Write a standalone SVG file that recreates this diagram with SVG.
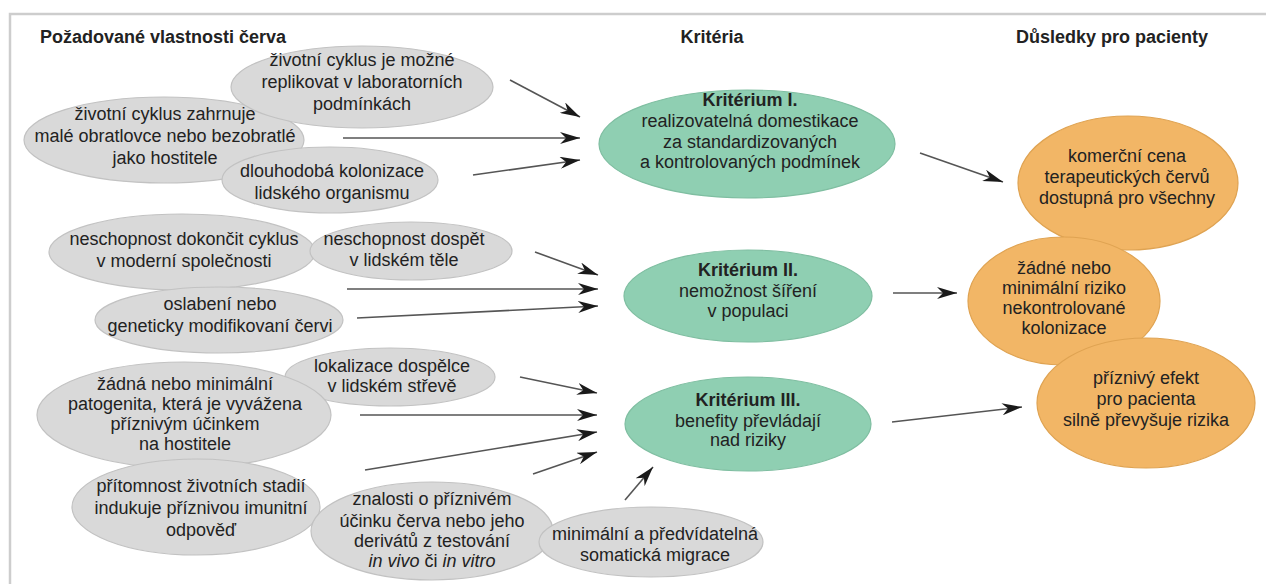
<svg xmlns="http://www.w3.org/2000/svg" width="1266" height="584" viewBox="0 0 1266 584">
<style>
text{font-family:"Liberation Sans",Arial,sans-serif;font-size:18px;fill:#222;text-anchor:middle}
.h{font-weight:bold}
.hl{font-weight:bold;text-anchor:start}
.gr{fill:#d9d9d9;stroke:#c2c2c2;stroke-width:1.2}
.gn{fill:#8fcfb2;stroke:#7fbea1;stroke-width:1.2}
.or{fill:#f2b666;stroke:#dfa352;stroke-width:1.2}
.c line{stroke:#555;stroke-width:1.6;marker-end:url(#ah)}
.i{font-style:italic}
</style>
<defs>
<marker id="ah" markerUnits="userSpaceOnUse" markerWidth="22" markerHeight="12" refX="20" refY="6" orient="auto">
<path d="M0,0 L20,6 L0,12 L6,6 Z" fill="#1a1a1a"/>
</marker>
</defs>
<rect width="1266" height="584" fill="#fff"/>
<path d="M1266,14 H10 V584" fill="none" stroke="#cdcdcd" stroke-width="2.5"/>
<g id="headers">
<text class="hl" x="40" y="43">Požadované vlastnosti červa</text>
<text class="h" x="712" y="43">Kritéria</text>
<text class="h" x="1112" y="43">Důsledky pro pacienty</text>
</g>
<g id="n2"><ellipse class="gr" cx="164" cy="140" rx="140" ry="43"/>
<text x="165" y="120">životní cyklus zahrnuje</text><text x="165" y="142">malé obratlovce nebo bezobratlé</text><text x="165" y="164">jako hostitele</text></g>
<g id="n1"><ellipse class="gr" cx="362" cy="87" rx="131" ry="41"/>
<text x="362" y="66">životní cyklus je možné</text><text x="362" y="88">replikovat v laboratorních</text><text x="362" y="110">podmínkách</text></g>
<g id="n3"><ellipse class="gr" cx="330" cy="180" rx="108" ry="33"/>
<text x="332" y="177">dlouhodobá kolonizace</text><text x="332" y="199">lidského organismu</text></g>
<g id="n4"><ellipse class="gr" cx="182" cy="252" rx="133" ry="38"/>
<text x="184" y="245">neschopnost dokončit cyklus</text><text x="184" y="267">v moderní společnosti</text></g>
<g id="n5"><ellipse class="gr" cx="411" cy="251" rx="101" ry="29"/>
<text x="404" y="245">neschopnost dospět</text><text x="404" y="266">v lidském těle</text></g>
<g id="n6"><ellipse class="gr" cx="219" cy="320" rx="124" ry="33"/>
<text x="220" y="310">oslabení nebo</text><text x="220" y="332">geneticky modifikovaní červi</text></g>
<g id="n7"><ellipse class="gr" cx="390" cy="377" rx="105" ry="29"/>
<text x="392" y="372">lokalizace dospělce</text><text x="392" y="392">v lidském střevě</text></g>
<g id="n8"><ellipse class="gr" cx="184" cy="415" rx="147" ry="53"/>
<text x="185" y="390">žádná nebo minimální</text><text x="185" y="410">patogenita, která je vyvážena</text><text x="185" y="430">příznivým účinkem</text><text x="185" y="450">na hostitele</text></g>
<g id="n9"><ellipse class="gr" cx="196" cy="507" rx="124" ry="48"/>
<text x="201" y="492">přítomnost životních stadií</text><text x="201" y="514">indukuje příznivou imunitní</text><text x="201" y="536">odpověď</text></g>
<g id="n10"><ellipse class="gr" cx="432" cy="531" rx="121" ry="49"/>
<text x="432" y="505">znalosti o příznivém</text><text x="432" y="527">účinku červa nebo jeho</text><text x="432" y="547">derivátů z testování</text><text x="432" y="567"><tspan class="i">in vivo</tspan> či <tspan class="i">in vitro</tspan></text></g>
<g id="n11"><ellipse class="gr" cx="651" cy="542" rx="112" ry="35"/>
<text x="655" y="540">minimální a předvídatelná</text><text x="655" y="561">somatická migrace</text></g>
<g id="k1"><ellipse class="gn" cx="747" cy="144" rx="148" ry="54"/>
<text class="h" x="750" y="106">Kritérium I.</text><text x="750" y="127">realizovatelná domestikace</text><text x="750" y="148">za standardizovaných</text><text x="750" y="168">a kontrolovaných podmínek</text></g>
<g id="k2"><ellipse class="gn" cx="748" cy="296" rx="124" ry="46"/>
<text class="h" x="748" y="276">Kritérium II.</text><text x="748" y="297">nemožnost šíření</text><text x="748" y="317">v populaci</text></g>
<g id="k3"><ellipse class="gn" cx="748" cy="424" rx="123" ry="47"/>
<text class="h" x="748" y="406">Kritérium III.</text><text x="748" y="427">benefity převládají</text><text x="748" y="446">nad riziky</text></g>
<g id="o1"><ellipse class="or" cx="1128" cy="183" rx="110" ry="67"/>
<text x="1127" y="162">komerční cena</text><text x="1127" y="183">terapeutických červů</text><text x="1127" y="204">dostupná pro všechny</text></g>
<g id="o2"><ellipse class="or" cx="1064" cy="301" rx="96" ry="64"/>
<text x="1064" y="274">žádné nebo</text><text x="1064" y="294">minimální riziko</text><text x="1064" y="314">nekontrolované</text><text x="1064" y="334">kolonizace</text></g>
<g id="o3"><ellipse class="or" cx="1146" cy="403" rx="109" ry="65"/>
<text x="1146" y="384">příznivý efekt</text><text x="1146" y="405">pro pacienta</text><text x="1146" y="426">silně převyšuje rizika</text></g>
<g id="connectors" class="c">
<line x1="510" y1="80" x2="580" y2="117"/>
<line x1="343" y1="138" x2="580" y2="138"/>
<line x1="473" y1="175" x2="580" y2="160"/>
<line x1="920" y1="153" x2="1003" y2="182"/>
<line x1="535" y1="252" x2="598" y2="275"/>
<line x1="347" y1="289" x2="598" y2="289"/>
<line x1="357" y1="318" x2="598" y2="306"/>
<line x1="893" y1="293" x2="957" y2="293"/>
<line x1="520" y1="377" x2="597" y2="393"/>
<line x1="360" y1="415" x2="597" y2="415"/>
<line x1="365" y1="470" x2="597" y2="432"/>
<line x1="533" y1="474" x2="597" y2="452"/>
<line x1="625" y1="500" x2="653" y2="467"/>
<line x1="892" y1="422" x2="1022" y2="407"/>
</g>
</svg>
